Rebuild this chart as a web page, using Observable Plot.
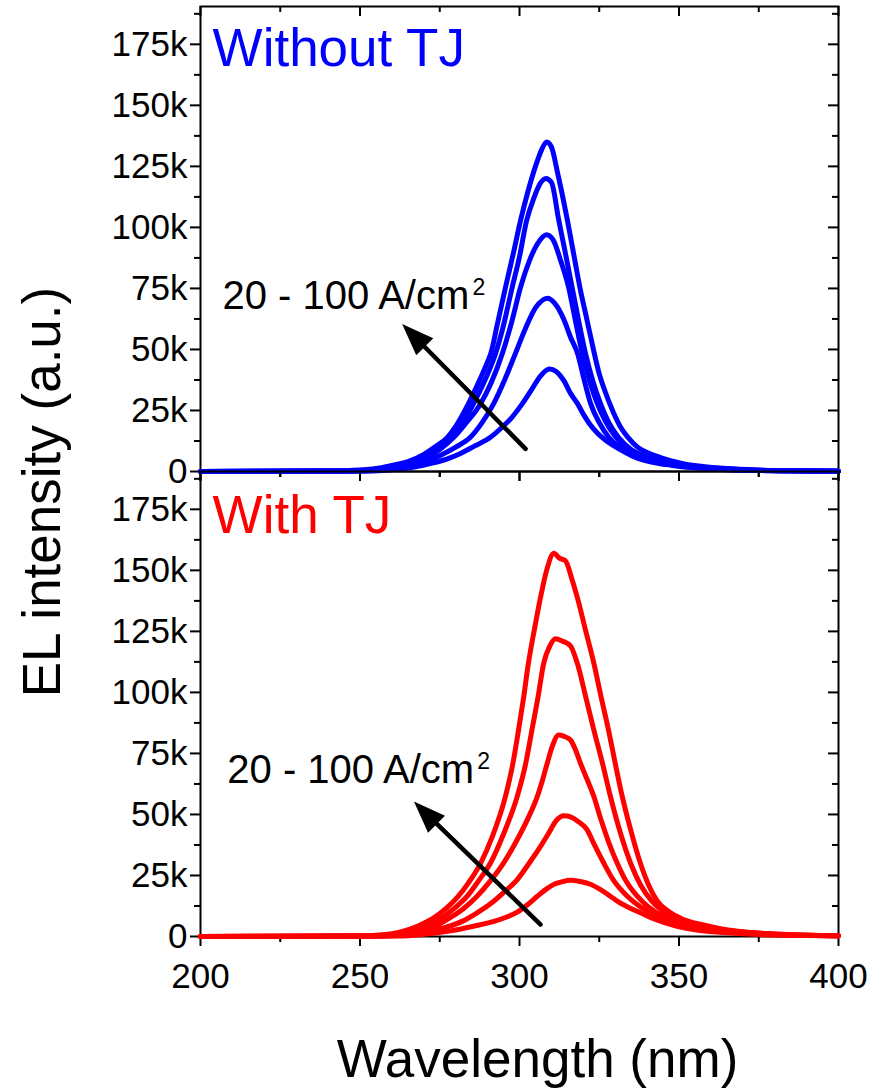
<!DOCTYPE html>
<html>
<head>
<meta charset="utf-8">
<script src="https://cdn.jsdelivr.net/npm/d3@7"></script>
<script src="https://cdn.jsdelivr.net/npm/@observablehq/plot@0.6"></script>
<style>
  html, body { margin: 0; padding: 0; background: #fff; }
  #wrap { position: relative; width: 882px; height: 1092px; background: #fff; overflow: hidden; }
  #topPanel { position: absolute; left: 0; top: 0; }
  #bottomPanel { position: absolute; left: 0; top: 465px; }
  #ylab {
    position: absolute; left: 41px; top: 492px;
    transform: translate(-50%, -50%) rotate(-90deg);
    font-family: "Liberation Sans", Arial, sans-serif; font-size: 53px; line-height: 1;
    white-space: nowrap; color: #000;
  }
</style>
</head>
<body>
<div id="wrap">
  <div id="topPanel"></div>
  <div id="bottomPanel"></div>
  <div id="ylab">EL intensity (a.u.)</div>
</div>
<script>
// ---------------- DATA (wavelength nm, EL intensity in k counts) ----------------
const wavelengthTicks = [200, 250, 300, 350, 400];
const wavelengthMinorTicks = [225, 275, 325, 375];
const intensityTicks = [0, 25, 50, 75, 100, 125, 150, 175];
const intensityMinorTicks = [12.5, 37.5, 62.5, 87.5, 112.5, 137.5, 162.5, 187.5];
const currentDensities = [20, 40, 60, 80, 100]; // A/cm^2

const panelTitles = ["Without TJ", "With TJ"];
const annotationText = "20 - 100 A/cm";
const annotationSup = "2";

// Without TJ spectra
const withoutTJ_20 = [[200,0],[252,0.2],[260,0.7],[267,1.8],[273,3.5],[278,5.5],[281.5,7.4],[286,10.5],[290.9,14],[294,17.5],[297.5,22],[300.9,27.8],[304,34],[306.5,39],[309.4,42],[311.5,41],[314,37],[316,32],[318.2,27.8],[320,23.5],[322,19.5],[324.4,15.8],[327,12.8],[331.6,9],[336,6],[341,4],[348,2.5],[356,1.4],[365,0.7],[380,0.3],[400,0.1]];
const withoutTJ_40 = [[200,0],[250,0.2],[258,0.7],[264,1.8],[270,3.8],[275,6.5],[280,10],[284.6,14],[288,19.5],[291.9,27.8],[295.5,38],[298.7,48.3],[302,59],[305,67],[308.8,71],[311,69],[314,62],[316,55],[318.2,48.3],[320,39],[322.3,27.8],[325,20],[328,14],[332,9.5],[337,6],[343,3.8],[350,2.3],[358,1.3],[368,0.6],[385,0.3],[400,0.1]];
const withoutTJ_60 = [[200,0],[248,0.2],[255,0.6],[261,1.5],[266,3],[271,5.5],[275,9],[279.4,14],[283,19.5],[287.8,27.8],[291,36],[294.6,48.3],[297.5,61],[300.3,75.4],[303,86],[305.5,93],[308.5,97],[310.5,95],[313,86],[315.4,75.4],[317.5,62],[319.7,48.3],[322,37],[324.4,27.8],[327,20.5],[330,14.5],[334,9.5],[339,6],[345,3.8],[352,2.3],[360,1.3],[370,0.6],[385,0.3],[400,0.1]];
const withoutTJ_80 = [[200,0],[245,0.2],[252,0.6],[258,1.5],[263,3],[268,5],[273,8.5],[278,13],[282,19.5],[285.6,27.8],[289,37],[292.5,48.3],[295,60],[297.7,75.4],[300,88],[302.2,102.7],[304.5,112],[306.5,118],[308.3,120],[310,118.5],[312.3,103],[314,92],[316.5,75.4],[318.5,62],[320.7,48.3],[323,37],[325.4,27.8],[328,20],[331,14],[335,9],[340,6],[346,4],[353,2.5],[362,1.3],[372,0.6],[385,0.3],[400,0.1]];
const withoutTJ_100 = [[200,0],[240,0.2],[250,0.6],[255,1.2],[260,2.5],[265,4],[270,7],[274,10.5],[277.4,14],[280,18.5],[284,27.8],[287,36],[290,45],[291,48.3],[293,60],[295.6,75.4],[298,89],[300.3,102.7],[302.5,114],[305,125],[307,132],[308.5,135],[310,133],[312,122],[313,116],[315,103],[317,89],[319,75],[321,63],[323,51],[325,40],[326.5,34],[329.5,24],[332,17.5],[334,14],[337,10],[340,7.8],[344,5.8],[347,4.5],[352,3],[358,2],[365,1.2],[375,0.6],[385,0.3],[400,0.1]];

// With TJ spectra
const withTJ_20 = [[200,0],[262,0.2],[270,0.9],[278,2.2],[285.6,4.2],[292,6.2],[296,8],[299.3,10],[302.5,13],[305.6,16.5],[308.5,19.5],[311,21.5],[313.5,22.5],[316,23],[319,22.5],[322,21.5],[325,19.5],[328.5,16.5],[331,14.2],[333.8,12.2],[337.9,9.7],[342,7.3],[349.4,4.2],[356,2.6],[364,1.6],[375,0.8],[388,0.4],[400,0.3]];
const withTJ_40 = [[200,0],[258,0.2],[266,0.9],[272,2.2],[277,3.8],[282,6.2],[286.7,9.7],[291,13.5],[295,18],[299.3,23.3],[303,30],[306.6,36.9],[309,42],[311.5,47.5],[313.9,49.5],[316,49],[318.5,47],[321.2,43.7],[323.5,37.5],[326.4,30.1],[329.5,23],[333.8,16.5],[337.5,12.5],[342,9],[347,6.5],[353,4.4],[360,2.8],[368,1.7],[378,0.9],[390,0.5],[400,0.3]];
const withTJ_60 = [[200,0],[255,0.2],[263,0.9],[269,2.2],[274,4.5],[278,7.5],[282.5,11.5],[286.7,16.5],[291,23],[295,30.1],[299,39],[302.5,48],[305.6,57.4],[307.2,64],[308.7,71],[310.3,78],[312.3,82.5],[314,82],[316,80.5],[317.7,76],[319.1,71],[321.3,64],[323.3,57.4],[325.5,48],[328,38.5],[330.6,30.1],[333.5,22.5],[336.9,16.5],[340.5,12],[345,8.3],[350,5.8],[356,3.9],[363,2.5],[372,1.4],[383,0.7],[400,0.3]];
const withTJ_80 = [[200,0],[252,0.2],[260,0.8],[266,2.2],[271,4.5],[276,8],[280,12],[283.6,16.5],[287,22.5],[290.9,30.1],[295,42],[299.3,57.4],[301.8,70],[303.9,84.6],[305.8,98],[307.6,112],[309.5,119],[311.3,122],[313.5,121],[316,119],[318.1,112],[320.8,98],[323.3,84.6],[326,71],[328.5,57.4],[331.5,43],[334.8,30.1],[338,21],[341.5,14.5],[346,9.5],[351,6.5],[357,4.3],[364,2.7],[372,1.6],[382,0.8],[400,0.3]];
const withTJ_100 = [[200,0],[250,0.2],[258,0.8],[263,2],[268,4.2],[273,7.5],[277,11.5],[280.5,16],[284,22],[287.8,30],[291.5,41],[295.6,57.4],[297.8,70],[299.7,84.6],[301.3,98],[302.8,112],[304.7,126],[306.6,139],[308.5,150],[310.8,157],[312.5,155],[314.4,154],[316.3,147],[318.1,139],[320.8,125],[323.3,112],[325.6,98],[327.9,84.6],[330,71],[332.2,57.4],[335,43],[337.9,30],[340.5,21],[343.2,14.5],[347,10],[351,7.2],[356.7,5],[363,3.2],[370,2],[378,1.2],[388,0.6],[400,0.3]];

// Annotations in data coordinates (nm, k)
const titlePos = [[203.8, 166], [203.8, 165.2]];
const labelPos = [[206.9, 66.7], [208.4, 62.8]];
const arrowTail = [[301.9, 9.3], [306.6, 4.9]];
const arrowTip = [[263.2, 60.4], [266.9, 55.3]];

// ---------------- BUILD ----------------
const FONT = "'Liberation Sans', Arial, Helvetica, sans-serif";
const colors = ["#0000FF", "#FF0000"];
const seriesSets = [
  [withoutTJ_20, withoutTJ_40, withoutTJ_60, withoutTJ_80, withoutTJ_100],
  [withTJ_20, withTJ_40, withTJ_60, withTJ_80, withTJ_100]
];

const arrowHead = {
  draw(ctx) {
    ctx.moveTo(0, 0);
    ctx.lineTo(12, 32);
    ctx.lineTo(-12, 32);
    ctx.closePath();
  }
};

function panel(i, isBottom) {
  const rows = [];
  seriesSets[i].forEach((s, j) => s.forEach(([nm, k]) => rows.push({current: currentDensities[j], nm, k})));
  const plotH = 465; // frame height in px
  const marginTop = 6;
  const marginBottom = isBottom ? 155 : 10;
  const fmt = d => d === 0 ? "0" : d + "k";
  const marks = [
    Plot.frame({stroke: "black", strokeWidth: 2}),
    Plot.axisY({ticks: intensityTicks, tickSize: 10, tickPadding: 3, tickFormat: fmt, fontSize: 35, strokeWidth: 2, label: null, fill: "black"}),
    Plot.axisY({ticks: intensityMinorTicks, tickSize: 6, tickFormat: () => "", strokeWidth: 2, label: null}),
    Plot.axisX({anchor: "bottom", ticks: wavelengthTicks, tickSize: 10, tickPadding: 17, tickFormat: isBottom ? (d => String(d)) : (() => ""), fontSize: 35, strokeWidth: 2, label: null, fill: "black"}),
    Plot.axisX({anchor: "bottom", ticks: wavelengthMinorTicks, tickSize: 6, tickFormat: () => "", strokeWidth: 2, label: null}),
    Plot.tickX(wavelengthTicks, {x: d => d, insetBottom: plotH - 10, stroke: "black", strokeWidth: 2}),
    Plot.tickX(wavelengthMinorTicks, {x: d => d, insetBottom: plotH - 6, stroke: "black", strokeWidth: 2}),
    Plot.tickY(intensityTicks, {y: d => d, insetLeft: 638 - 10, stroke: "black", strokeWidth: 2}),
    Plot.tickY(intensityMinorTicks, {y: d => d, insetLeft: 638 - 6, stroke: "black", strokeWidth: 2}),
    Plot.line(rows, {x: "nm", y: "k", z: "current", stroke: colors[i], strokeWidth: 5, curve: "monotone-x", strokeLinejoin: "round", strokeLinecap: "round"}),
    Plot.text([panelTitles[i]], {x: () => titlePos[i][0], y: () => titlePos[i][1], text: d => d, textAnchor: "start", lineAnchor: "bottom", fontSize: 53, fill: colors[i], fontFamily: FONT}),
    Plot.text([annotationText], {x: () => labelPos[i][0], y: () => labelPos[i][1], text: d => d, textAnchor: "start", lineAnchor: "bottom", fontSize: 40, fill: "black", fontFamily: FONT}),
    Plot.text([annotationSup], {x: () => labelPos[i][0], y: () => labelPos[i][1], text: d => d, textAnchor: "start", lineAnchor: "bottom", dx: 250, dy: -14, fontSize: 23, fill: "black", fontFamily: FONT}),
    Plot.arrow([0], {x1: () => arrowTail[i][0], y1: () => arrowTail[i][1], x2: () => arrowTip[i][0], y2: () => arrowTip[i][1], headLength: 0, insetEnd: 14, stroke: "black", strokeWidth: 4.5}),
    Plot.dot([0], {x: () => arrowTip[i][0], y: () => arrowTip[i][1], symbol: arrowHead, r: 10, fill: "black", stroke: "none", rotate: -45})
  ];
  if (isBottom) {
    marks.push(Plot.text(["Wavelength (nm)"], {frameAnchor: "bottom", text: d => d, dx: 18, dy: 124, lineAnchor: "middle", fontSize: 53, fill: "black", fontFamily: FONT}));
  }
  return Plot.plot({
    width: 882,
    height: marginTop + plotH + marginBottom,
    marginLeft: 200,
    marginRight: 44,
    marginTop,
    marginBottom,
    x: {domain: [200, 400]},
    y: {domain: [0, 190.5]},
    style: {fontFamily: FONT, fontSize: "35px", background: "transparent", overflow: "visible", color: "black"},
    marks
  });
}

document.getElementById("topPanel").appendChild(panel(0, false));
document.getElementById("bottomPanel").appendChild(panel(1, true));
</script>
</body>
</html>
